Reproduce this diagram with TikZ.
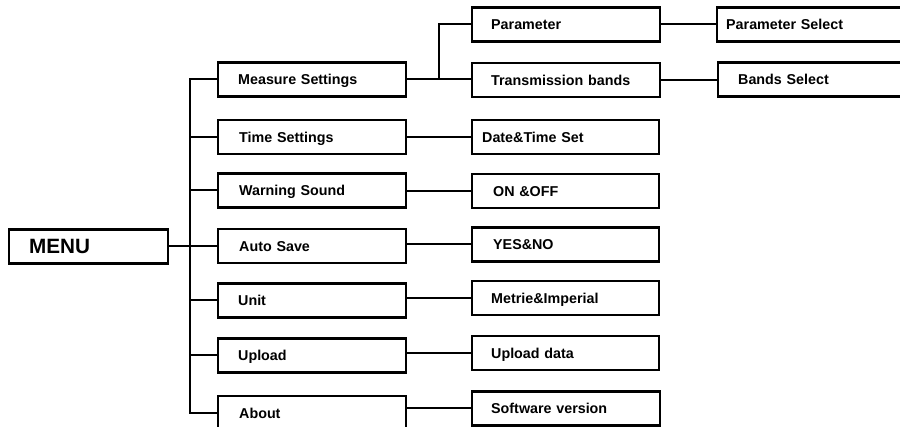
\documentclass[tikz,border=0pt]{standalone}
\usepackage{fontspec}
\setmainfont{Liberation Sans}
\usetikzlibrary{positioning}

\begin{document}
\begin{tikzpicture}[x=1pt, y=-1pt, line join=miter,
		itembox/.style 2 args={draw, line width=2.4pt, anchor=west, align=left,
			minimum height=34pt, inner xsep=#2pt, text width=#1pt,
			text height=10.3pt, text depth=0pt,
			font=\bfseries\fontsize{14.3}{16}\selectfont},
		link/.style={draw, line width=2pt}]
		
		% Canvas
		\useasboundingbox (0,0) rectangle (900,427);
		\clip (0,0) rectangle (900,427);
		
		% Bus lines
		\coordinate (bus1) at (190,0);
		\coordinate (bus2) at (439,0);
		
		% 1. Root
		\node[itembox={119}{20}, text height=14.9pt,
		font=\bfseries\fontsize{20.7}{24}\selectfont] (menu) at (8,246.5) {MENU};
		
		% 2. First level
		\node[itembox={148}{20}] (ms) at (217,79.5) {Measure Settings};
		\node[itembox={146}{21}] (ts) at (217,137) {Time Settings};
		\node[itembox={146}{21}] (ws) at (217,190.5) {Warning Sound};
		\node[itembox={146}{21}] (as) at (217,246) {Auto Save};
		\node[itembox={148}{20}] (un) at (217,300.5) {Unit};
		\node[itembox={148}{20}] (up) at (217,355.5) {Upload};
		\node[itembox={146}{21}] (ab) at (217,413) {About};
		
		% 3. Second level
		\node[itembox={150}{19}] (pa) at (471,24.5) {Parameter};
		\node[itembox={150}{19}] (tb) at (471,80) {Transmission bands};
		\node[itembox={167}{10}] (dt) at (471,137) {Date\&Time Set};
		\node[itembox={145}{21}] (on) at (471,191) {ON \&OFF};
		\node[itembox={145}{21}] (yn) at (471,244.5) {YES\&NO};
		\node[itembox={149}{19}] (mi) at (471,298) {Metrie\&Imperial};
		\node[itembox={149}{19}] (ud) at (471,353) {Upload data};
		\node[itembox={150}{19}] (sv) at (471,408.5) {Software version};
		
		% 4. Third level (runs past the right edge)
		\node[itembox={232}{9}] (ps) at (716,24.5) {Parameter Select};
		\node[itembox={210}{20}] (bs) at (717,79.5) {Bands Select};
		
		% 5. Connectors
		\draw[link] (menu.east) -- (menu.east -| as.west);
		\draw[link] (ms.west) -| (bus1 |- ab.west) -- (ab.west);
		\foreach \n in {ts,ws,as,un,up}
		\draw[link] (bus1 |- \n.west) -- (\n.west);
		
		\draw[link] (ms.east) -- (ms.east -| tb.west);
		\draw[link] (pa.west) -| (bus2 |- ms.east);
		\foreach \p/\c in {ts/dt,ws/on,as/yn,un/mi,up/ud,ab/sv}
		\draw[link] (\c.west -| \p.east) -- (\c.west);
		
		\draw[link] (pa.east) -- (ps.west |- pa.east);
		\draw[link] (tb.east) -- (bs.west |- tb.east);
		
	\end{tikzpicture}
\end{document}
